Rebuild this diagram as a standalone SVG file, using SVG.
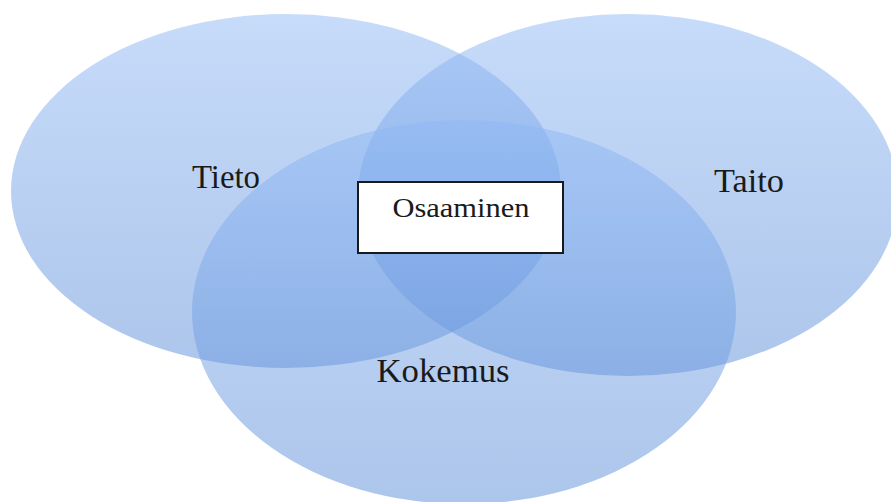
<svg xmlns="http://www.w3.org/2000/svg" width="891" height="502" viewBox="0 0 891 502">
<defs>
<linearGradient id="g" x1="0" y1="0" x2="0" y2="1">
<stop offset="0" stop-color="#8fb8f5"/>
<stop offset="1" stop-color="#5a8cd6"/>
</linearGradient>
<style>
.c{fill:url(#g);fill-opacity:0.5;stroke:none}
.t{font-family:"Liberation Serif","DejaVu Serif",serif;fill:#1a1a1a;text-anchor:middle}
.big{font-size:33px}
.small{font-size:27px}
</style>
</defs>
<rect width="891" height="502" fill="#ffffff"/>
<g id="tieto">
<ellipse class="c" cx="286" cy="191" rx="275" ry="177"/>
<text class="t big" x="226" y="188" textLength="68" lengthAdjust="spacingAndGlyphs">Tieto</text>
</g>
<g id="taito">
<ellipse class="c" cx="628" cy="195" rx="270" ry="181"/>
<text class="t big" x="749" y="192" textLength="70" lengthAdjust="spacingAndGlyphs">Taito</text>
</g>
<g id="kokemus">
<ellipse class="c" cx="464" cy="312" rx="272" ry="192"/>
<text class="t big" x="443" y="382" textLength="133" lengthAdjust="spacingAndGlyphs">Kokemus</text>
</g>
<g id="osaaminen">
<rect x="358" y="182" width="205" height="71" fill="#ffffff" stroke="#1a1a1a" stroke-width="2"/>
<text class="t small" x="461" y="217" textLength="137" lengthAdjust="spacingAndGlyphs">Osaaminen</text>
</g>
<g id="connectors"/>
</svg>
